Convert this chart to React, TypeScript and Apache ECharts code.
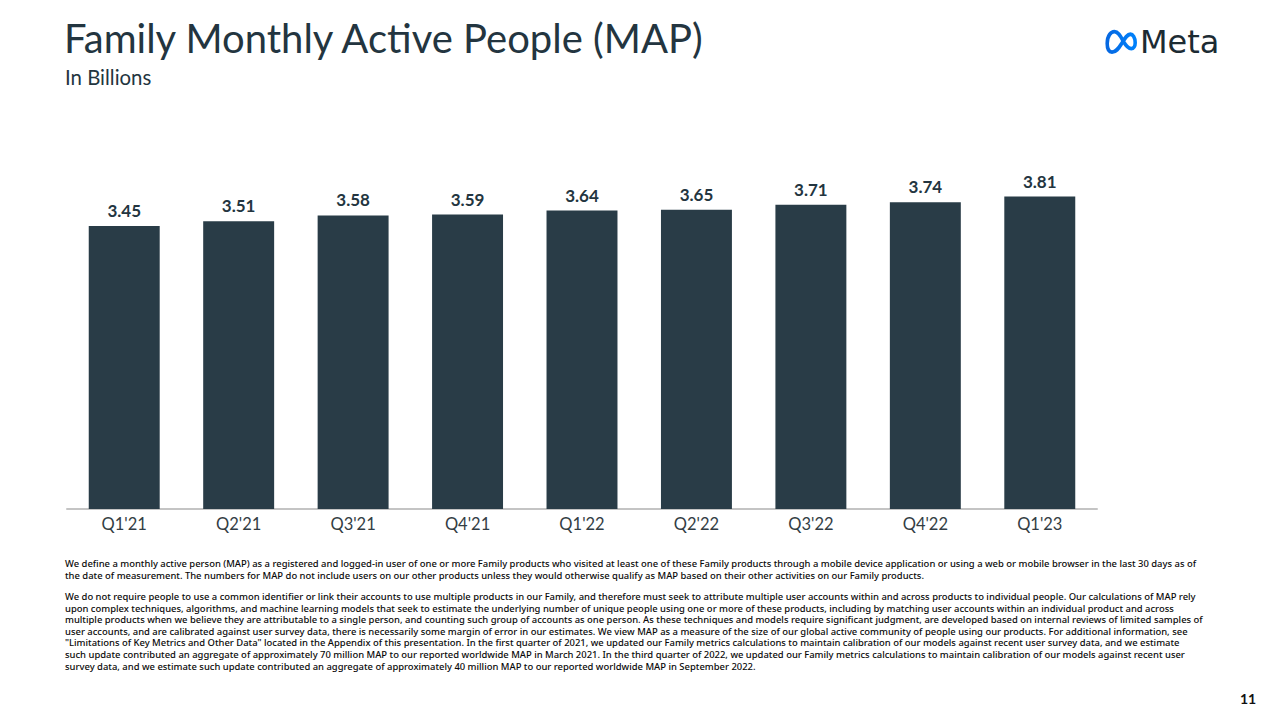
import React, { useEffect, useRef } from "react";
import * as echarts from "echarts";

const categories = ["Q1'21", "Q2'21", "Q3'21", "Q4'21", "Q1'22", "Q2'22", "Q3'22", "Q4'22", "Q1'23"];
const mapValues = [3.45, 3.51, 3.58, 3.59, 3.64, 3.65, 3.71, 3.74, 3.81];

const titleText = "Family Monthly Active People (MAP)";
const subtitleText = "In Billions";
const footnoteParagraph1 = [
  "We define a monthly active person (MAP) as a registered and logged-in user of one or more Family products who visited at least one of these Family products through a mobile device application or using a web or mobile browser in the last 30 days as of",
  "the date of measurement. The numbers for MAP do not include users on our other products unless they would otherwise qualify as MAP based on their other activities on our Family products.",
];
const footnoteParagraph2 = [
  "We do not require people to use a common identifier or link their accounts to use multiple products in our Family, and therefore must seek to attribute multiple user accounts within and across products to individual people. Our calculations of MAP rely",
  "upon complex techniques, algorithms, and machine learning models that seek to estimate the underlying number of unique people using one or more of these products, including by matching user accounts within an individual product and across",
  "multiple products when we believe they are attributable to a single person, and counting such group of accounts as one person. As these techniques and models require significant judgment, are developed based on internal reviews of limited samples of",
  "user accounts, and are calibrated against user survey data, there is necessarily some margin of error in our estimates. We view MAP as a measure of the size of our global active community of people using our products. For additional information, see",
  "\"Limitations of Key Metrics and Other Data\" located in the Appendix of this presentation. In the first quarter of 2021, we updated our Family metrics calculations to maintain calibration of our models against recent user survey data, and we estimate",
  "such update contributed an aggregate of approximately 70 million MAP to our reported worldwide MAP in March 2021. In the third quarter of 2022, we updated our Family metrics calculations to maintain calibration of our models against recent user",
  "survey data, and we estimate such update contributed an aggregate of approximately 40 million MAP to our reported worldwide MAP in September 2022.",
];
const pageNumber = "11";

const INFINITY_D =
  "M4,16 C4,6 9,2 13,2 C18,2 21,8 24,13 C27,18 30,22 34,22 C37,22 39,19 39,15 C39,9 36,5 33,5 C29,5 26,10 22,16 C18,22 15,26 10,26 C6,26 4,22 4,16 Z";

export default function App() {
  const ref = useRef<HTMLDivElement>(null);
  useEffect(() => {
    if (!ref.current) return;
    try {
      echarts.graphic.registerShape("metaInf", echarts.graphic.extendPath(INFINITY_D, {}) as any);
    } catch (e) {}
    const chart = echarts.init(ref.current, undefined, { renderer: "svg" });
    const textColor = "#233540";
    const fontFam = "Lato, 'Open Sans', sans-serif";
    const footStyle = { fontSize: 9.43, fontFamily: "'Noto Sans', sans-serif", fill: "#0a0a0a", fontWeight: 500 };
    const footLines: any[] = [];
    const lh = 11.6;
    footnoteParagraph1.forEach((t, i) =>
      footLines.push({ type: "text", left: 65, top: 559 + i * lh, style: { text: t, ...footStyle } })
    );
    footnoteParagraph2.forEach((t, i) =>
      footLines.push({ type: "text", left: 65, top: 592 + i * lh, style: { text: t, ...footStyle } })
    );
    chart.setOption({
      animation: false,
      backgroundColor: "#ffffff",
      grid: { left: 67, right: 183, top: 181, bottom: 205, containLabel: false },
      xAxis: {
        type: "category",
        data: categories,
        axisLine: { lineStyle: { color: "#c4c4c4", width: 2 } },
        axisTick: { show: false },
        axisLabel: { color: "#333d44", fontSize: 16.5, fontFamily: fontFam, margin: 6 },
      },
      yAxis: {
        type: "value",
        min: 0,
        max: 4,
        show: false,
        splitLine: { show: false },
      },
      series: [
        {
          type: "bar",
          data: mapValues,
          barWidth: "62%",
          itemStyle: { color: "#293c47" },
          label: {
            show: true,
            position: "top",
            distance: 7,
            formatter: (p: any) => p.value.toFixed(2),
            color: textColor,
            fontSize: 17,
            fontWeight: "bold",
            fontFamily: fontFam,
          },
        },
      ],
      graphic: [
        {
          type: "text",
          left: 64,
          top: 18,
          style: { text: titleText, fontSize: 40, fontFamily: fontFam, fill: "#233540" },
        },
        {
          type: "text",
          left: 65,
          top: 67,
          style: { text: subtitleText, fontSize: 20.4, fontFamily: fontFam, fill: "#233540" },
        },
        {
          type: "metaInf",
          x: 1104,
          y: 30,
          scaleX: 0.8,
          scaleY: 0.85,
          style: {
            fill: "none",
            stroke: new echarts.graphic.LinearGradient(0, 0, 1, 0, [
              { offset: 0, color: "#0668e1" },
              { offset: 1, color: "#0081fb" },
            ]),
            lineWidth: 4.5,
          },
        },
        {
          type: "text",
          left: 1140,
          top: 26,
          style: { text: "Meta", fontSize: 32, fontFamily: "'DejaVu Sans', sans-serif", fill: "#1c2b33" },
        },
        ...footLines,
        {
          type: "text",
          left: 1240,
          top: 691,
          style: { text: pageNumber, fontSize: 14, fontWeight: "bold", fontFamily: fontFam, fill: "#111" },
        },
      ],
    });
    return () => chart.dispose();
  }, []);
  return <div ref={ref} style={{ position: "fixed", left: 0, top: 0, width: 1280, height: 714 }} />;
}
